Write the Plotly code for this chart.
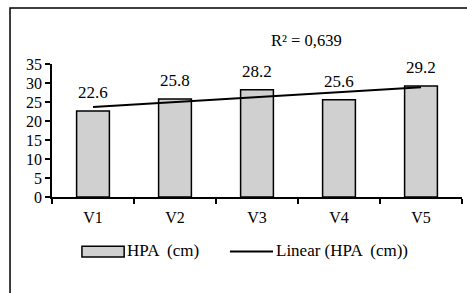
import numpy as np
import plotly.graph_objects as go

categories = ["V1", "V2", "V3", "V4", "V5"]
hpa_values = [22.6, 25.8, 28.2, 25.6, 29.2]
y_ticks = [0, 5, 10, 15, 20, 25, 30, 35]
series_name = "HPA  (cm)"
trend_name = "Linear (HPA  (cm))"

# linear trend line (least squares) and R²
xi = np.arange(1, len(hpa_values) + 1)
slope, intercept = np.polyfit(xi, hpa_values, 1)
trend = slope * xi + intercept
yv = np.array(hpa_values)
r2 = 1 - np.sum((yv - trend) ** 2) / np.sum((yv - yv.mean()) ** 2)

FONT = "Liberation Serif, Times New Roman, serif"

fig = go.Figure()
fig.add_trace(go.Bar(
    x=categories, y=hpa_values, width=0.4,
    marker=dict(color="#d0d0d0", line=dict(color="black", width=1.5)),
    showlegend=False, hoverinfo="skip",
))
fig.add_trace(go.Scatter(
    x=categories, y=trend, mode="lines",
    line=dict(color="black", width=2), showlegend=False, hoverinfo="skip",
))

for c, v in zip(categories, hpa_values):
    fig.add_annotation(x=c, y=v, text=f"{v:.1f}", showarrow=False,
                       yanchor="bottom", yshift=7,
                       font=dict(family=FONT, size=17, color="black"))

fig.add_annotation(xref="paper", yref="paper", x=0.62, y=1.18,
                   text="R² = " + f"{r2:.3f}".replace(".", ","),
                   showarrow=False, xanchor="center", yanchor="middle",
                   font=dict(family=FONT, size=16.5, color="black"))

# manual legend
fig.add_shape(type="rect", xref="paper", yref="paper",
              x0=0.073, x1=0.176, y0=-0.452, y1=-0.37,
              fillcolor="#d0d0d0", line=dict(color="black", width=1.5))
fig.add_annotation(xref="paper", yref="paper", x=0.178, y=-0.405,
                   text=series_name, showarrow=False, xanchor="left",
                   yanchor="middle", font=dict(family=FONT, size=17, color="black"))
fig.add_shape(type="line", xref="paper", yref="paper",
              x0=0.434, x1=0.539, y0=-0.41, y1=-0.41,
              line=dict(color="black", width=2))
fig.add_annotation(xref="paper", yref="paper", x=0.541, y=-0.405,
                   text=trend_name, showarrow=False, xanchor="left",
                   yanchor="middle", font=dict(family=FONT, size=17, color="black"))

# outer frame (partially cropped)
fig.add_shape(type="rect", xref="paper", yref="paper",
              x0=-0.1024, x1=1.2, y0=-1.2, y1=1.421,
              line=dict(color="black", width=1.5), fillcolor="rgba(0,0,0,0)")

fig.update_layout(
    width=467, height=293,
    margin=dict(l=52, r=5, t=64, b=96, autoexpand=False),
    paper_bgcolor="white", plot_bgcolor="white",
    bargap=0.6,
    font=dict(family=FONT, size=16, color="black"),
)
fig.update_xaxes(
    type="category", showline=True, linecolor="black", linewidth=1.5,
    ticks="outside", ticklen=5, tickcolor="black", tickwidth=1.5,
    tickson="boundaries", showgrid=False, zeroline=False, automargin=False,
    ticklabelstandoff=5,
    tickfont=dict(family=FONT, size=16, color="black"),
)
fig.update_yaxes(
    range=[0, 35], tickvals=y_ticks, showline=True, linecolor="black", linewidth=1.5,
    ticks="outside", ticklen=5, tickcolor="black", tickwidth=1.5,
    showgrid=False, zeroline=False, automargin=False,
    tickfont=dict(family=FONT, size=16, color="black"),
)

fig.write_html("out.html", config={"displayModeBar": False},
               post_script="document.body.style.margin='0';document.body.style.overflow='hidden';")
